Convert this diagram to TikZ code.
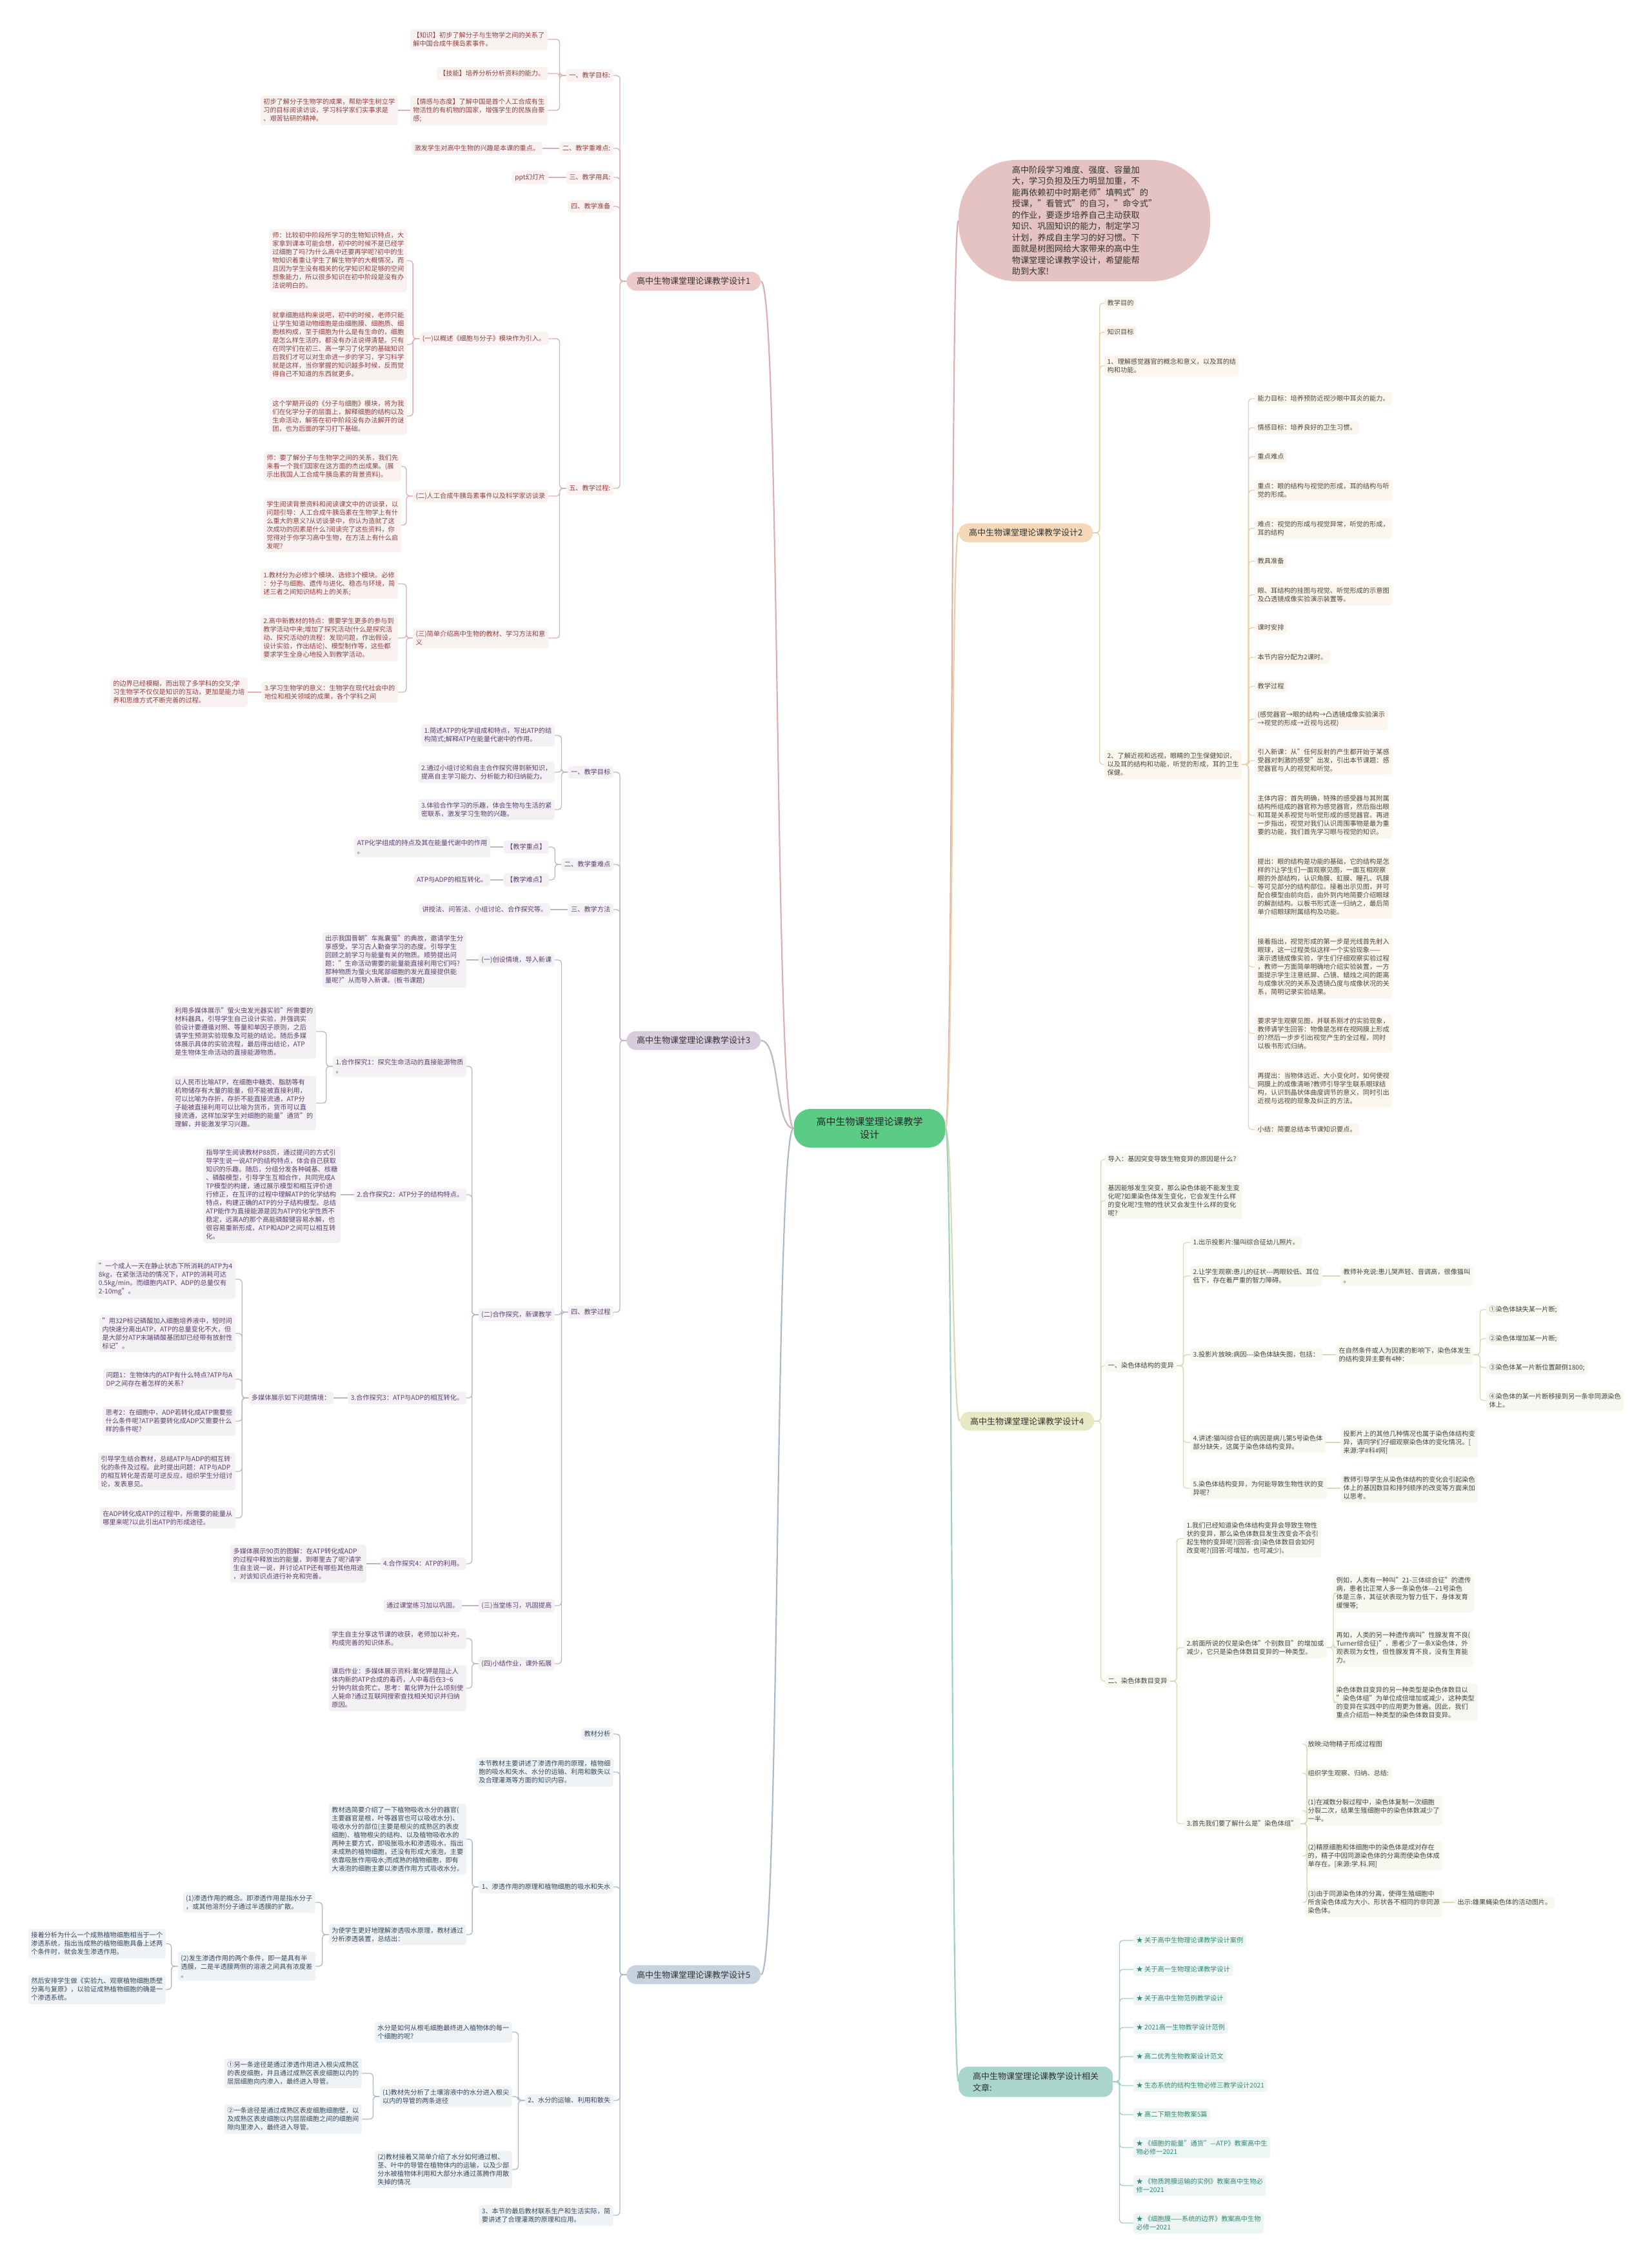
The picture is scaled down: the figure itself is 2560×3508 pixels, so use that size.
\documentclass[tikz,border=0pt]{standalone}
\usepackage{fontspec}
\setmainfont{Noto Sans CJK SC}
\usetikzlibrary{positioning}

\definecolor{rootfill}{HTML}{5BCB86}
\definecolor{pinkmain}{HTML}{EDC9C9}
\definecolor{pinkbg}{HTML}{FAF1F1}
\definecolor{pinktx}{HTML}{93403F}
\definecolor{pinkln}{HTML}{DDB0B0}
\definecolor{lavmain}{HTML}{D8CCDC}
\definecolor{lavbg}{HTML}{F4F1F5}
\definecolor{lavtx}{HTML}{5E3D70}
\definecolor{lavln}{HTML}{C2B4C6}
\definecolor{bluemain}{HTML}{C6D3DF}
\definecolor{bluebg}{HTML}{F0F3F6}
\definecolor{bluetx}{HTML}{35495F}
\definecolor{blueln}{HTML}{AABACA}
\definecolor{tanmain}{HTML}{F4D8B8}
\definecolor{tanbg}{HTML}{FDF6EE}
\definecolor{tantx}{HTML}{4E4640}
\definecolor{tanln}{HTML}{EBCFA6}
\definecolor{olivemain}{HTML}{E6E9C3}
\definecolor{olivebg}{HTML}{F7F8EF}
\definecolor{olivetx}{HTML}{454540}
\definecolor{oliveln}{HTML}{D5DBB2}
\definecolor{tealmain}{HTML}{A9D5CB}
\definecolor{tealbg}{HTML}{EDF6F4}
\definecolor{tealtx}{HTML}{2F8A73}
\definecolor{tealln}{HTML}{9FD0C4}
\definecolor{introfill}{HTML}{E6C3C3}

\begin{document}
\begin{tikzpicture}[
    x=1pt, y=-1pt,
    leaf/.style={rectangle, rounded corners=4pt, inner xsep=4.5pt, inner ysep=5pt, align=left, font=\fontsize{10.2}{13}\selectfont},
    pinkbox/.style={leaf, fill=pinkbg, text=pinktx},
    lavbox/.style={leaf, fill=lavbg, text=lavtx},
    bluebox/.style={leaf, fill=bluebg, text=bluetx},
    tanbox/.style={leaf, fill=tanbg, text=tantx},
    olivebox/.style={leaf, fill=olivebg, text=olivetx},
    tealbox/.style={leaf, fill=tealbg, text=tealtx},
    mainbox/.style={rectangle, rounded corners=15pt, inner xsep=16pt, inner ysep=8.5pt, align=left, text=black!80, font=\fontsize{13}{18}\selectfont},
    rootbox/.style={rectangle, rounded corners=26pt, fill=rootfill, minimum width=235pt, minimum height=60pt, align=center, text=black!85, font=\fontsize{15}{20}\selectfont},
    pinkline/.style={draw=pinkln, line width=1.3pt, rounded corners=5pt},
    lavline/.style={draw=lavln, line width=1.3pt, rounded corners=5pt},
    blueline/.style={draw=blueln, line width=1.3pt, rounded corners=5pt},
    tanline/.style={draw=tanln, line width=1.3pt, rounded corners=5pt},
    oliveline/.style={draw=oliveln, line width=1.3pt, rounded corners=5pt},
    tealline/.style={draw=tealln, line width=1.3pt, rounded corners=5pt}
]
\useasboundingbox (0,0) rectangle (2560,3508);
\fill[white] (0,0) rectangle (2560,3508);

% Centre
\node[rootbox] (root) at (1348,1749) {高中生物课堂理论课教学\\设计};

% Intro bubble (top right)
\node[rectangle, rounded corners=90pt, fill=introfill, minimum width=390pt, minimum height=188pt, align=left, text=black!80, font=\fontsize{13.2}{17.5}\selectfont] (intro) at (1681,342) {高中阶段学习难度、强度、容量加\\大，学习负担及压力明显加重，不\\能再依赖初中时期老师"填鸭式"的\\授课，"看管式"的自习，"命令式"\\的作业，要逐步培养自己主动获取\\知识、巩固知识的能力，制定学习\\计划，养成自主学习的好习惯。下\\面就是树图网给大家带来的高中生\\物课堂理论课教学设计，希望能帮\\助到大家!};

% Main branches
\node[mainbox, fill=pinkmain, anchor=west] (des1) at (971,436) {高中生物课堂理论课教学设计1};
\node[mainbox, fill=lavmain, anchor=west] (des3) at (971,1613) {高中生物课堂理论课教学设计3};
\node[mainbox, fill=bluemain, anchor=west] (des5) at (971,3061) {高中生物课堂理论课教学设计5};
\node[mainbox, fill=tanmain, anchor=west] (des2) at (1486,826) {高中生物课堂理论课教学设计2};
\node[mainbox, fill=olivemain, anchor=west] (des4) at (1488,2203) {高中生物课堂理论课教学设计4};
\node[mainbox, fill=tealmain, anchor=west, inner xsep=22pt] (rel) at (1486,3227) {高中生物课堂理论课教学设计相关\\文章:};

\draw[pinkln, line width=2.2pt] (root.west) .. controls +(-30,0) and +(30,0) .. (des1.east);
\draw[lavln, line width=2.2pt] (root.west) .. controls +(-30,0) and +(30,0) .. (des3.east);
\draw[blueln, line width=2.2pt] (root.west) .. controls +(-30,0) and +(30,0) .. (des5.east);
\draw[pinkln, line width=2.2pt] (root.east) .. controls +(12,0) and +(-12,0) .. (intro.west);
\draw[tanln, line width=2.2pt] (root.east) .. controls +(12,0) and +(-12,0) .. (des2.west);
\draw[oliveln, line width=2.2pt] (root.east) .. controls +(12,0) and +(-12,0) .. (des4.west);
\draw[tealln, line width=2.2pt] (root.east) .. controls +(12,0) and +(-12,0) .. (rel.west);

% ---------------- Design 1 (left, pink) ----------------
\node[pinkbox, anchor=east] (a1) at (951,117) {一、教学目标:};
\node[pinkbox, anchor=east] (a2) at (951,230) {二、教学重难点:};
\node[pinkbox, anchor=east] (a3) at (951,275) {三、教学用具:};
\node[pinkbox, anchor=east] (a4) at (951,320) {四、教学准备};
\node[pinkbox, anchor=east] (a5) at (951,757) {五、教学过程:};

\node[pinkbox, anchor=east] (a11) at (849,61) {【知识】初步了解分子与生物学之间的关系了\\解中国合成牛胰岛素事件。};
\node[pinkbox, anchor=east] (a12) at (849,114) {【技能】培养分析分析资料的能力。};
\node[pinkbox, anchor=east] (a13) at (849,171) {【情感与态度】了解中国是首个人工合成有生\\物活性的有机物的国家，增强学生的民族自豪\\感;};
\node[pinkbox, anchor=east] (a131) at (617,171) {初步了解分子生物学的成果，帮助学生树立学\\习的目标阅读访谈，学习科学家们实事求是\\、艰苦钻研的精神。};
\node[pinkbox, anchor=east] (a21) at (841,230) {激发学生对高中生物的兴趣是本课的重点。};
\node[pinkbox, anchor=east] (a31) at (850,275) {ppt幻灯片};

\node[pinkbox, anchor=east] (a51) at (850,525) {(一)以概述《细胞与分子》模块作为引入。};
\node[pinkbox, anchor=east] (a511) at (631,404) {师：比较初中阶段所学习的生物知识特点，大\\家拿到课本可能会想，初中的时候不是已经学\\过细胞了吗?为什么高中还要再学呢?初中的生\\物知识着重让学生了解生物学的大概情况，而\\且因为学生没有相关的化学知识和足够的空间\\想象能力，所以很多知识在初中阶段是没有办\\法说明白的。};
\node[pinkbox, anchor=east] (a512) at (631,534) {就拿细胞结构来说吧，初中的时候，老师只能\\让学生知道动物细胞是由细胞膜、细胞质、细\\胞核构成，至于细胞为什么是有生命的，细胞\\是怎么样生活的，都没有办法说得清楚。只有\\在同学们在初三、高一学习了化学的基础知识\\后我们才可以对生命进一步的学习，学习科学\\就是这样，当你掌握的知识越多时候，反而觉\\得自己不知道的东西就更多。};
\node[pinkbox, anchor=east] (a513) at (631,645) {这个学期开设的《分子与细胞》模块，将为我\\们在化学分子的层面上，解释细胞的结构以及\\生命活动，解答在初中阶段没有办法解开的谜\\团，也为后面的学习打下基础。};
\node[pinkbox, anchor=east] (a52) at (850,769) {(二)人工合成牛胰岛素事件以及科学家访谈录};
\node[pinkbox, anchor=east] (a521) at (622,723) {师：要了解分子与生物学之间的关系，我们先\\来看一个我们国家在这方面的杰出成果。(展\\示出我国人工合成牛胰岛素的背景资料)。};
\node[pinkbox, anchor=east] (a522) at (622,814) {学生阅读背景资料和阅读课文中的访谈录，以\\问题引导：人工合成牛胰岛素在生物学上有什\\么重大的意义?从访谈录中，你认为造就了这\\次成功的因素是什么?阅读完了这些资料，你\\觉得对于你学习高中生物，在方法上有什么启\\发呢?};
\node[pinkbox, anchor=east] (a53) at (850,989) {(三)简单介绍高中生物的教材、学习方法和意\\义};
\node[pinkbox, anchor=east] (a531) at (617,905) {1.教材分为必修3个模块、选修3个模块。必修\\：分子与细胞、遗传与进化、稳态与环境，简\\述三者之间知识结构上的关系;};
\node[pinkbox, anchor=east] (a532) at (617,989) {2.高中新教材的特点：需要学生更多的参与到\\教学活动中来;增加了探究活动(什么是探究活\\动、探究活动的流程：发现问题，作出假设，\\设计实验，作出结论)、模型制作等，这些都\\要求学生全身心地投入到教学活动。};
\node[pinkbox, anchor=east] (a533) at (617,1073) {3.学习生物学的意义：生物学在现代社会中的\\地位和相关领域的成果，各个学科之间};
\node[pinkbox, anchor=east] (a5331) at (384,1073) {的边界已经模糊，而出现了多学科的交叉;学\\习生物学不仅仅是知识的互动，更加是能力培\\养和思维方式不断完善的过程。};

\foreach \c in {a1,a2,a3,a4,a5} \draw[pinkline] (des1.west) -- ++(-10,0) |- (\c.east);
\foreach \c in {a11,a12,a13} \draw[pinkline] (a1.west) -- ++(-10,0) |- (\c.east);
\draw[pinkline] (a13.west) -- (a131.east);
\draw[pinkline] (a2.west) -- (a21.east);
\draw[pinkline] (a3.west) -- (a31.east);
\foreach \c in {a51,a52,a53} \draw[pinkline] (a5.west) -- ++(-10,0) |- (\c.east);
\foreach \c in {a511,a512,a513} \draw[pinkline] (a51.west) -- ++(-10,0) |- (\c.east);
\foreach \c in {a521,a522} \draw[pinkline] (a52.west) -- ++(-10,0) |- (\c.east);
\foreach \c in {a531,a532,a533} \draw[pinkline] (a53.west) -- ++(-10,0) |- (\c.east);
\draw[pinkline] (a533.west) -- (a5331.east);

% ---------------- Design 3 (left, lavender) ----------------
\node[lavbox, anchor=east] (c1) at (951,1197) {一、教学目标};
\node[lavbox, anchor=east] (c2) at (951,1340) {二、教学重难点};
\node[lavbox, anchor=east] (c3) at (951,1410) {三、教学方法};
\node[lavbox, anchor=east] (c4) at (951,2034) {四、教学过程};

\node[lavbox, anchor=east] (c11) at (860,1140) {1.简述ATP的化学组成和特点，写出ATP的结\\构简式;解释ATP在能量代谢中的作用。};
\node[lavbox, anchor=east] (c12) at (860,1197) {2.通过小组讨论和自主合作探究得到新知识，\\提高自主学习能力、分析能力和归纳能力。};
\node[lavbox, anchor=east] (c13) at (860,1255) {3.体验合作学习的乐趣，体会生物与生活的紧\\密联系，激发学习生物的兴趣。};
\node[lavbox, anchor=east] (c21) at (851,1313) {【教学重点】};
\node[lavbox, anchor=east] (c211) at (760,1313) {ATP化学组成的持点及其在能量代谢中的作用\\。};
\node[lavbox, anchor=east] (c22) at (851,1364) {【教学难点】};
\node[lavbox, anchor=east] (c221) at (760,1364) {ATP与ADP的相互转化。};
\node[lavbox, anchor=east] (c31) at (853,1410) {讲授法、问答法、小组讨论、合作探究等。};

\node[lavbox, anchor=east] (c41) at (860,1488) {(一)创设情境，导入新课};
\node[lavbox, anchor=east] (c411) at (723,1488) {出示我国晋朝"车胤囊萤"的典故，邀请学生分\\享感受，学习古人勤奋学习的态度。引导学生\\回顾之前学习与能量有关的物质。顺势提出问\\题："生命活动需要的能量能直接利用它们吗?\\那种物质为萤火虫尾部细胞的发光直接提供能\\量呢?"从而导入新课。(板书课题)};
\node[lavbox, anchor=east] (c42) at (860,2038) {(二)合作探究，新课教学};
\node[lavbox, anchor=east] (c421) at (723,1653) {1.合作探究1：探究生命活动的直接能源物质\\。};
\node[lavbox, anchor=east] (c4211) at (490,1599) {利用多媒体展示"萤火虫发光器实验"所需要的\\材料器具，引导学生自己设计实验，并强调实\\验设计要遵循对照、等量和单因子原则，之后\\请学生预测实验现象及可能的结论。随后多媒\\体展示具体的实验流程，最后得出结论，ATP\\是生物体生命活动的直接能源物质。};
\node[lavbox, anchor=east] (c4212) at (490,1710) {以人民币比喻ATP，在细胞中糖类、脂肪等有\\机物储存有大量的能量，但不能被直接利用，\\可以比喻为存折，存折不能直接流通，ATP分\\子能被直接利用可以比喻为货币，货币可以直\\接流通，这样加深学生对细胞的能量"通货"的\\理解，并能激发学习兴趣。};
\node[lavbox, anchor=east] (c422) at (723,1852) {2.合作探究2：ATP分子的结构特点。};
\node[lavbox, anchor=east] (c4221) at (528,1852) {指导学生阅读教材P88页，通过提问的方式引\\导学生说一说ATP的结构特点，体会自己获取\\知识的乐趣。随后，分组分发各种碱基、核糖\\、磷酸模型，引导学生互相合作，共同完成A\\TP模型的构建，通过展示模型和相互评价进\\行修正，在互评的过程中理解ATP的化学结构\\特点，构建正确的ATP的分子结构模型。总结\\ATP能作为直接能源是因为ATP的化学性质不\\稳定，远离A的那个高能磷酸键容易水解，也\\很容易重新形成，ATP和ADP之间可以相互转\\化。};
\node[lavbox, anchor=east] (c423) at (723,2167) {3.合作探究3：ATP与ADP的相互转化。};
\node[lavbox, anchor=east] (c4231) at (517,2167) {多媒体展示如下问题情境：};
\node[lavbox, anchor=east] (c42311) at (365,1983) {"一个成人一天在静止状态下所消耗的ATP为4\\8kg，在紧张活动的情况下，ATP的消耗可达\\0.5kg/min。而细胞内ATP、ADP的总量仅有\\2-10mg"。};
\node[lavbox, anchor=east] (c42312) at (365,2067) {"用32P标记磷酸加入细胞培养液中，短时间\\内快速分离出ATP，ATP的总量变化不大，但\\是大部分ATP末端磷酸基团却已经带有放射性\\标记"。};
\node[lavbox, anchor=east] (c42313) at (365,2138) {问题1：生物体内的ATP有什么特点?ATP与A\\DP之间存在着怎样的关系?};
\node[lavbox, anchor=east] (c42314) at (365,2203) {思考2：在细胞中，ADP若转化成ATP需要些\\什么条件呢?ATP若要转化成ADP又需要什么\\样的条件呢?};
\node[lavbox, anchor=east] (c42315) at (365,2281) {引导学生结合教材，总结ATP与ADP的相互转\\化的条件及过程。此时提出问题：ATP与ADP\\的相互转化是否是可逆反应，组织学生分组讨\\论，发表意见。};
\node[lavbox, anchor=east] (c42316) at (365,2353) {在ADP转化成ATP的过程中，所需要的能量从\\哪里来呢?以此引出ATP的形成途径。};
\node[lavbox, anchor=east] (c424) at (723,2424) {4.合作探究4：ATP的利用。};
\node[lavbox, anchor=east] (c4241) at (568,2424) {多媒体展示90页的图解：在ATP转化成ADP\\的过程中释放出的能量，到哪里去了呢?请学\\生自主说一说，并讨论ATP还有哪些其他用途\\，对该知识点进行补充和完善。};
\node[lavbox, anchor=east] (c43) at (860,2489) {(三)当堂练习，巩固提高};
\node[lavbox, anchor=east] (c431) at (716,2489) {通过课堂练习加以巩固。};
\node[lavbox, anchor=east] (c44) at (860,2579) {(四)小结作业，课外拓展};
\node[lavbox, anchor=east] (c441) at (723,2540) {学生自主分享这节课的收获，老师加以补充，\\构成完善的知识体系。};
\node[lavbox, anchor=east] (c442) at (723,2617) {课后作业：多媒体展示资料:氰化钾是阻止人\\体内新的ATP合成的毒药，人中毒后在3\textasciitilde 6\\分钟内就会死亡。思考：氰化钾为什么顷刻使\\人毙命?通过互联网搜索查找相关知识并归纳\\原因。};

\foreach \c in {c1,c2,c3,c4} \draw[lavline] (des3.west) -- ++(-10,0) |- (\c.east);
\foreach \c in {c11,c12,c13} \draw[lavline] (c1.west) -- ++(-10,0) |- (\c.east);
\foreach \c in {c21,c22} \draw[lavline] (c2.west) -- ++(-10,0) |- (\c.east);
\draw[lavline] (c21.west) -- (c211.east);
\draw[lavline] (c22.west) -- (c221.east);
\draw[lavline] (c3.west) -- (c31.east);
\foreach \c in {c41,c42,c43,c44} \draw[lavline] (c4.west) -- ++(-10,0) |- (\c.east);
\draw[lavline] (c41.west) -- (c411.east);
\foreach \c in {c421,c422,c423,c424} \draw[lavline] (c42.west) -- ++(-10,0) |- (\c.east);
\foreach \c in {c4211,c4212} \draw[lavline] (c421.west) -- ++(-10,0) |- (\c.east);
\draw[lavline] (c422.west) -- (c4221.east);
\draw[lavline] (c423.west) -- (c4231.east);
\foreach \c in {c42311,c42312,c42313,c42314,c42315,c42316} \draw[lavline] (c4231.west) -- ++(-10,0) |- (\c.east);
\draw[lavline] (c424.west) -- (c4241.east);
\draw[lavline] (c43.west) -- (c431.east);
\foreach \c in {c441,c442} \draw[lavline] (c44.west) -- ++(-10,0) |- (\c.east);

% ---------------- Design 5 (left, blue-grey) ----------------
\node[bluebox, anchor=east] (e1) at (951,2688) {教材分析};
\node[bluebox, anchor=east] (e2) at (951,2747) {本节教材主要讲述了渗透作用的原理，植物细\\胞的吸水和失水、水分的运输、利用和散失以\\及合理灌溉等方面的知识内容。};
\node[bluebox, anchor=east] (e3) at (951,2925) {1、渗透作用的原理和植物细胞的吸水和失水};
\node[bluebox, anchor=east] (e4) at (951,3256) {2、水分的运输、利用和散失};
\node[bluebox, anchor=east] (e5) at (951,3434) {3、本节的最后教材联系生产和生活实际，简\\要讲述了合理灌溉的原理和应用。};

\node[bluebox, anchor=east] (e31) at (723,2851) {教材选简要介绍了一下植物吸收水分的器官(\\主要器官是根，叶等器官也可以吸收水分)、\\吸收水分的部位(主要是根尖的成熟区的表皮\\细胞)、植物根尖的结构、以及植物吸收水的\\两种主要方式，即吸胀吸水和渗透吸水，指出\\未成熟的植物细胞，还没有形成大液泡，主要\\依靠吸胀作用吸水;而成熟的植物细胞，即有\\大液泡的细胞主要以渗透作用方式吸收水分。};
\node[bluebox, anchor=east] (e32) at (723,2999) {为使学生更好地理解渗透吸水原理，教材通过\\分析渗透装置，总结出：};
\node[bluebox, anchor=east] (e321) at (489,2949) {(1)渗透作用的概念。即渗透作用是指水分子\\，或其他溶剂分子通过半透膜的扩散。};
\node[bluebox, anchor=east] (e322) at (489,3048) {(2)发生渗透作用的两个条件，即一是具有半\\透膜，二是半透膜两侧的溶液之间具有浓度差\\。};
\node[bluebox, anchor=east] (e3221) at (257,3013) {接着分析为什么一个成熟植物细胞相当于一个\\渗透系统，指出当成熟的植物细胞具备上述两\\个条件时，就会发生渗透作用。};
\node[bluebox, anchor=east] (e3222) at (257,3084) {然后安排学生做《实验九、观察植物细胞质壁\\分离与复原》，以验证成熟植物细胞的确是一\\个渗透系统。};
\node[bluebox, anchor=east] (e41) at (794,3150) {水分是如何从根毛细胞最终进入植物体的每一\\个细胞的呢?};
\node[bluebox, anchor=east] (e42) at (794,3250) {(1)教材先分析了土壤溶液中的水分进入根尖\\以内的导管的两条途径};
\node[bluebox, anchor=east] (e421) at (561,3214) {①另一条途径是通过渗透作用进入根尖成熟区\\的表皮细胞，并且通过成熟区表皮细胞以内的\\层层细胞向内渗入，最终进入导管。};
\node[bluebox, anchor=east] (e422) at (561,3285) {②一条途径是通过成熟区表皮细胞细胞壁，以\\及成熟区表皮细胞以内层层细胞之间的细胞间\\隙向里渗入，最终进入导管。};
\node[bluebox, anchor=east] (e43) at (794,3363) {(2)教材接着又简单介绍了水分如何通过根、\\茎、叶中的导管在植物体内的运输，以及少部\\分水被植物体利用和大部分水通过蒸腾作用散\\失掉的情况};

\foreach \c in {e1,e2,e3,e4,e5} \draw[blueline] (des5.west) -- ++(-10,0) |- (\c.east);
\foreach \c in {e31,e32} \draw[blueline] (e3.west) -- ++(-10,0) |- (\c.east);
\foreach \c in {e321,e322} \draw[blueline] (e32.west) -- ++(-10,0) |- (\c.east);
\foreach \c in {e3221,e3222} \draw[blueline] (e322.west) -- ++(-10,0) |- (\c.east);
\foreach \c in {e41,e42,e43} \draw[blueline] (e4.west) -- ++(-10,0) |- (\c.east);
\foreach \c in {e421,e422} \draw[blueline] (e42.west) -- ++(-10,0) |- (\c.east);

% ---------------- Design 2 (right, tan) ----------------
\node[tanbox, anchor=west] (b1) at (1712,470) {教学目的};
\node[tanbox, anchor=west] (b2) at (1712,515) {知识目标};
\node[tanbox, anchor=west] (b3) at (1712,567) {1、理解感觉器官的概念和意义，以及耳的结\\构和功能。};
\node[tanbox, anchor=west] (b4) at (1712,1185) {2、了解近视和远视，眼睛的卫生保健知识，\\以及耳的结构和功能，听觉的形成，耳的卫生\\保健。};

\node[tanbox, anchor=west] (b41) at (1945,618) {能力目标：培养预防近视沙眼中耳炎的能力。};
\node[tanbox, anchor=west] (b42) at (1945,663) {情感目标：培养良好的卫生习惯。};
\node[tanbox, anchor=west] (b43) at (1945,708) {重点难点};
\node[tanbox, anchor=west] (b44) at (1945,760) {重点：眼的结构与视觉的形成，耳的结构与听\\觉的形成。};
\node[tanbox, anchor=west] (b45) at (1945,819) {难点：视觉的形成与视觉异常，听觉的形成，\\耳的结构};
\node[tanbox, anchor=west] (b46) at (1945,870) {教具准备};
\node[tanbox, anchor=west] (b47) at (1945,922) {眼、耳结构的挂图与视觉、听觉形成的示意图\\及凸透镜成像实验演示装置等。};
\node[tanbox, anchor=west] (b48) at (1945,973) {课时安排};
\node[tanbox, anchor=west] (b49) at (1945,1019) {本节内容分配为2课时。};
\node[tanbox, anchor=west] (b410) at (1945,1064) {教学过程};
\node[tanbox, anchor=west] (b411) at (1945,1115) {(感觉器官→眼的结构→凸透镜成像实验演示\\→视觉的形成→近视与远视)};
\node[tanbox, anchor=west] (b412) at (1945,1179) {引入新课：从"任何反射的产生都开始于某感\\受器对刺激的感受"出发，引出本节课题：感\\觉器官与人的视觉和听觉。};
\node[tanbox, anchor=west] (b413) at (1945,1264) {主体内容：首先明确，特殊的感受器与其附属\\结构所组成的器官称为感觉器官，然后指出眼\\和耳是关系视觉与听觉形成的感觉器官。再进\\一步指出，视觉对我们认识周围事物是最为重\\要的功能，我们首先学习眼与视觉的知识。};
\node[tanbox, anchor=west] (b414) at (1945,1375) {提出：眼的结构是功能的基础，它的结构是怎\\样的?让学生们一面观察见图，一面互相观察\\眼的外部结构，认识角膜、虹膜、瞳孔、巩膜\\等可见部分的结构部位。接着出示见图，并可\\配合模型由前向后，由外到内地简要介绍眼球\\的解剖结构。以板书形式逐一归纳之，最后简\\单介绍眼球附属结构及功能。};
\node[tanbox, anchor=west] (b415) at (1945,1499) {接着指出，视觉形成的第一步是光线首先射入\\眼球，这一过程类似这样一个实验现象——\\演示透镜成像实验，学生们仔细观察实验过程\\，教师一方面简单明确地介绍实验装置，一方\\面提示学生注意纸屏、凸镜、蜡烛之间的距离\\与成像状况的关系及透镜凸度与成像状况的关\\系，简明记录实验结果。};
\node[tanbox, anchor=west] (b416) at (1945,1602) {要求学生观察见图，并联系刚才的实验现象，\\教师请学生回答：物像是怎样在视网膜上形成\\的?然后一步步引出视觉产生的全过程，同时\\以板书形式归纳。};
\node[tanbox, anchor=west] (b417) at (1945,1687) {再提出：当物体远近、大小变化时，如何使视\\网膜上的成像清晰?教师引导学生联系眼球结\\构，认识到晶状体曲度调节的意义，同时引出\\近视与远视的现象及纠正的方法。};
\node[tanbox, anchor=west] (b418) at (1945,1751) {小结：简要总结本节课知识要点。};

\foreach \c in {b1,b2,b3,b4} \draw[tanline] (des2.east) -- ++(10,0) |- (\c.west);
\foreach \c in {b41,b42,b43,b44,b45,b46,b47,b48,b49,b410,b411,b412,b413,b414,b415,b416,b417,b418}
    \draw[tanline] (b4.east) -- ++(10,0) |- (\c.west);

% ---------------- Design 4 (right, olive) ----------------
\node[olivebox, anchor=west] (d1) at (1713,1797) {导入：基因突变导致生物变异的原因是什么?};
\node[olivebox, anchor=west] (d2) at (1713,1861) {基因能够发生突变，那么染色体能不能发生变\\化呢?如果染色体发生变化，它会发生什么样\\的变化呢?生物的性状又会发生什么样的变化\\呢?};
\node[olivebox, anchor=west] (d3) at (1713,2117) {一、染色体结构的变异};
\node[olivebox, anchor=west] (d4) at (1713,2606) {二、染色体数目变异};

\node[olivebox, anchor=west] (d31) at (1845,1926) {1.出示投影片:猫叫综合征幼儿照片。};
\node[olivebox, anchor=west] (d32) at (1845,1978) {2.让学生观察:患儿的征状-{}-{}-两眼较低、耳位\\低下，存在着严重的智力障碍。};
\node[olivebox, anchor=west] (d321) at (2078,1978) {教师补充说:患儿哭声轻、音调高，很像猫叫\\。};
\node[olivebox, anchor=west] (d33) at (1845,2100) {3.投影片放映:病因-{}-{}-染色体缺失图，包括：};
\node[olivebox, anchor=west] (d331) at (2071,2100) {在自然条件或人为因素的影响下，染色体发生\\的结构变异主要有4种：};
\node[olivebox, anchor=west] (d3311) at (2304,2030) {①染色体缺失某一片断;};
\node[olivebox, anchor=west] (d3312) at (2304,2075) {②染色体增加某一片断;};
\node[olivebox, anchor=west] (d3313) at (2304,2120) {③染色体某一片断位置颠倒1800;};
\node[olivebox, anchor=west] (d3314) at (2304,2171) {④染色体的某一片断移接到另一条非同源染色\\体上。};
\node[olivebox, anchor=west] (d34) at (1845,2236) {4.讲述:猫叫综合征的病因是病儿第5号染色体\\部分缺失，这属于染色体结构变异。};
\node[olivebox, anchor=west] (d341) at (2078,2236) {投影片上的其他几种情况也属于染色体结构变\\异，请同学们仔细观察染色体的变化情况。[\\来源:学\#科\#网]};
\node[olivebox, anchor=west] (d35) at (1845,2307) {5.染色体结构变异，为何能导致生物性状的变\\异呢?};
\node[olivebox, anchor=west] (d351) at (2078,2307) {教师引导学生从染色体结构的变化会引起染色\\体上的基因数目和排列顺序的改变等方面来加\\以思考。};

\node[olivebox, anchor=west] (d41) at (1835,2385) {1.我们已经知道染色体结构变异会导致生物性\\状的变异，那么染色体数目发生改变会不会引\\起生物的变异呢?(回答:会)染色体数目会如何\\改变呢?(回答:可增加，也可减少)。};
\node[olivebox, anchor=west] (d42) at (1835,2554) {2.前面所说的仅是染色体"个别数目"的增加或\\减少，它只是染色体数目变异的一种类型。};
\node[olivebox, anchor=west] (d421) at (2067,2470) {例如，人类有一种叫"21-三体综合征"的遗传\\病，患者比正常人多一条染色体-{}-{}-21号染色\\体是三条，其征状表现为智力低下，身体发育\\缓慢等;};
\node[olivebox, anchor=west] (d422) at (2067,2554) {再如，人类的另一种遗传病叫"性腺发育不良(\\Turner综合征)"，患者少了一条X染色体，外\\观表现为女性，但性腺发育不良，没有生育能\\力。};
\node[olivebox, anchor=west] (d423) at (2067,2639) {染色体数目变异的另一种类型是染色体数目以\\"染色体组"为单位成倍增加或减少，这种类型\\的变异在实践中的应用更为普遍。因此，我们\\重点介绍后一种类型的染色体数目变异。};
\node[olivebox, anchor=west] (d43) at (1835,2827) {3.首先我们要了解什么是"染色体组"};
\node[olivebox, anchor=west] (d431) at (2023,2704) {放映:动物精子形成过程图};
\node[olivebox, anchor=west] (d432) at (2023,2749) {组织学生观察、归纳、总结:};
\node[olivebox, anchor=west] (d433) at (2023,2807) {(1)在减数分裂过程中，染色体复制一次细胞\\分裂二次，结果生殖细胞中的染色体数减少了\\一半。};
\node[olivebox, anchor=west] (d434) at (2023,2877) {(2)精原细胞和体细胞中的染色体是成对存在\\的，精子中因同源染色体的分离而使染色体成\\单存在。[来源:学.科.网]};
\node[olivebox, anchor=west] (d435) at (2023,2949) {(3)由于同源染色体的分离，使得生殖细胞中\\所含染色体成为大小、形状各不相同的非同源\\染色体。};
\node[olivebox, anchor=west] (d4351) at (2255,2949) {出示:雄果蝇染色体的活动图片。};

\foreach \c in {d1,d2,d3,d4} \draw[oliveline] (des4.east) -- ++(10,0) |- (\c.west);
\foreach \c in {d31,d32,d33,d34,d35} \draw[oliveline] (d3.east) -- ++(10,0) |- (\c.west);
\draw[oliveline] (d32.east) -- (d321.west);
\draw[oliveline] (d33.east) -- (d331.west);
\foreach \c in {d3311,d3312,d3313,d3314} \draw[oliveline] (d331.east) -- ++(10,0) |- (\c.west);
\draw[oliveline] (d34.east) -- (d341.west);
\draw[oliveline] (d35.east) -- (d351.west);
\foreach \c in {d41,d42,d43} \draw[oliveline] (d4.east) -- ++(10,0) |- (\c.west);
\foreach \c in {d421,d422,d423} \draw[oliveline] (d42.east) -- ++(10,0) |- (\c.west);
\foreach \c in {d431,d432,d433,d434,d435} \draw[oliveline] (d43.east) -- ++(10,0) |- (\c.west);
\draw[oliveline] (d435.east) -- (d4351.west);

% ---------------- Related articles (right, teal) ----------------
\node[tealbox, anchor=west] (f1) at (1757,3008) {★ 关于高中生物理论课教学设计案例};
\node[tealbox, anchor=west] (f2) at (1757,3053) {★ 关于高一生物理论课教学设计};
\node[tealbox, anchor=west] (f3) at (1757,3098) {★ 关于高中生物范例教学设计};
\node[tealbox, anchor=west] (f4) at (1757,3143) {★ 2021高一生物教学设计范例};
\node[tealbox, anchor=west] (f5) at (1757,3188) {★ 高二优秀生物教案设计范文};
\node[tealbox, anchor=west] (f6) at (1757,3233) {★ 生态系统的结构生物必修三教学设计2021};
\node[tealbox, anchor=west] (f7) at (1757,3278) {★ 高二下期生物教案5篇};
\node[tealbox, anchor=west] (f8) at (1757,3329) {★ 《细胞的能量"通货"—ATP》教案高中生\\物必修一2021};
\node[tealbox, anchor=west] (f9) at (1757,3388) {★ 《物质跨膜运输的实例》教案高中生物必\\修一2021};
\node[tealbox, anchor=west] (f10) at (1757,3446) {★ 《细胞膜——系统的边界》教案高中生物\\必修一2021};

\foreach \c in {f1,f2,f3,f4,f5,f6,f7,f8,f9,f10} \draw[tealline] (rel.east) -- ++(10,0) |- (\c.west);

\end{tikzpicture}
\end{document}
